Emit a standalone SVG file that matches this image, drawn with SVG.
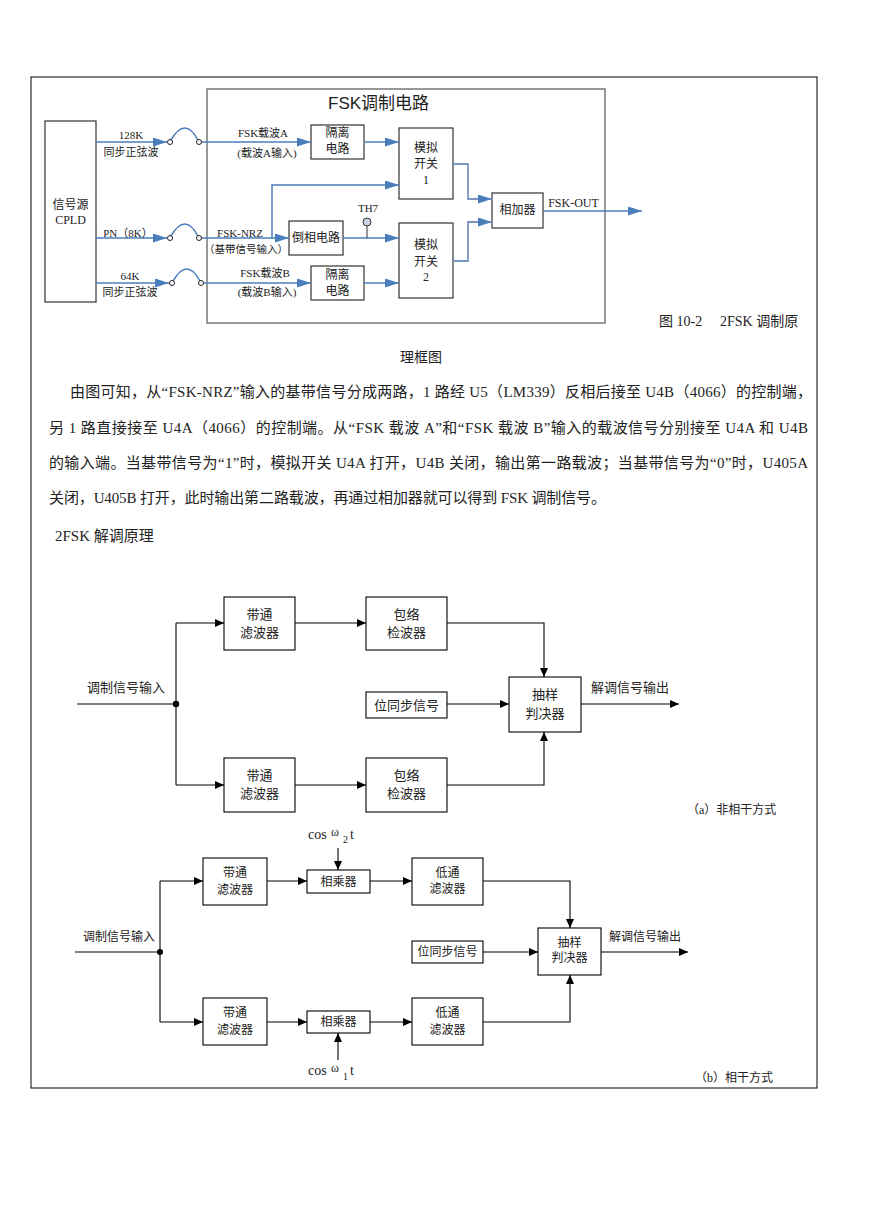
<svg xmlns="http://www.w3.org/2000/svg" width="869" height="1228" viewBox="0 0 869 1228">
<defs>
<style>
.bx{fill:#fff;stroke:#333;stroke-width:1.2}
.kb{fill:#fff;stroke:#000;stroke-width:1.1}
.bl{fill:none;stroke:#4a7ebb;stroke-width:1.5}
.bl2{fill:none;stroke:#7d95c2;stroke-width:1.8}
.k{fill:none;stroke:#000;stroke-width:1.1}
.s{font-family:"Liberation Serif","Noto Sans CJK SC",serif;fill:#222}
.c{text-anchor:middle}
.f11{font-size:11px}
.f12{font-size:12px}
.f13{font-size:13px}
.f15{font-size:15px}
</style>
<marker id="ab" markerUnits="userSpaceOnUse" markerWidth="14" markerHeight="9" refX="14" refY="4.5" orient="auto"><path d="M0,0 L14,4.5 L0,9 z" fill="#4a7ebb"/></marker>
<marker id="ak" markerUnits="userSpaceOnUse" markerWidth="9" markerHeight="8" refX="9" refY="4" orient="auto"><path d="M0,0 L9,4 L0,8 z" fill="#000"/></marker>
</defs>
<rect x="0" y="0" width="869" height="1228" fill="#fff"/>
<rect x="31" y="77" width="786" height="1011" fill="none" stroke="#000" stroke-width="1"/>

<!-- ===== FSK modulation diagram ===== -->
<g id="fsk-box">
<rect x="207" y="89" width="398" height="234" fill="none" stroke="#777" stroke-width="1.5"/>
<text x="328" y="109" font-family="Liberation Sans,Noto Sans CJK SC,sans-serif" font-size="17" fill="#222">FSK调制电路</text>
</g>
<g id="cpld">
<rect class="bx" x="45" y="121" width="51" height="181"/>
<text class="s c f12" x="70.5" y="209">信号源</text>
<text class="s c f12" x="70.5" y="224">CPLD</text>
</g>
<g id="iso-a">
<rect class="bx" x="311" y="125" width="53" height="34"/>
<text class="s c f12" x="337.5" y="137">隔离</text>
<text class="s c f12" x="337.5" y="153">电路</text>
</g>
<g id="iso-b">
<rect class="bx" x="311" y="266" width="53" height="34"/>
<text class="s c f12" x="337.5" y="279">隔离</text>
<text class="s c f12" x="337.5" y="295">电路</text>
</g>
<g id="switch1">
<rect class="bx" x="399" y="128" width="54" height="71"/>
<text class="s c f12" x="426" y="152">模拟</text>
<text class="s c f12" x="426" y="168">开关</text>
<text class="s c f12" x="426" y="184">1</text>
</g>
<g id="switch2">
<rect class="bx" x="399" y="223" width="54" height="75"/>
<text class="s c f12" x="426" y="249">模拟</text>
<text class="s c f12" x="426" y="266">开关</text>
<text class="s c f12" x="426" y="281">2</text>
</g>
<g id="inverter">
<rect class="bx" x="289" y="221" width="54" height="34"/>
<text class="s c f12" x="316" y="242">倒相电路</text>
</g>
<g id="adder">
<rect class="bx" x="492" y="193" width="51" height="35"/>
<text class="s c f12" x="517.5" y="214">相加器</text>
</g>
<g id="th7">
<circle cx="367" cy="222" r="4" fill="#c9d2e2" stroke="#333" stroke-width="1"/>
<text class="s c f11" x="368" y="212">TH7</text>
</g>

<g id="connectors-top">
<line class="bl" x1="96" y1="142" x2="167" y2="142" marker-end="url(#ab)"/>
<path class="bl" d="M171,140 Q185,116 198,140"/>
<line class="bl" x1="201.5" y1="142" x2="311" y2="142" marker-end="url(#ab)"/>
<line class="bl" x1="364" y1="142" x2="399" y2="142" marker-end="url(#ab)"/>

<line class="bl" x1="96" y1="238" x2="167" y2="238" marker-end="url(#ab)"/>
<path class="bl" d="M171,236 Q185,212 198,236"/>
<line class="bl" x1="201.5" y1="238" x2="289" y2="238" marker-end="url(#ab)"/>
<path class="bl" d="M272,238 V185 H399" marker-end="url(#ab)"/>
<line class="bl" x1="343" y1="238" x2="399" y2="238" marker-end="url(#ab)"/>
<line x1="367" y1="238" x2="367" y2="226" stroke="#333" stroke-width="1"/>

<line class="bl" x1="96" y1="283" x2="169" y2="283" marker-end="url(#ab)"/>
<path class="bl" d="M173,281 Q187,257 200,281"/>
<line class="bl" x1="203.5" y1="283" x2="311" y2="283" marker-end="url(#ab)"/>
<line class="bl" x1="364" y1="283" x2="399" y2="283" marker-end="url(#ab)"/>

<path class="bl2" d="M453,164 H468 V199 H492" marker-end="url(#ab)"/>
<path class="bl2" d="M453,261 H468 V222 H492" marker-end="url(#ab)"/>
<line class="bl" x1="543" y1="211" x2="642" y2="211" marker-end="url(#ab)"/>

<g fill="#fff" stroke="#222" stroke-width="1">
<circle cx="170" cy="142" r="2.5"/><circle cx="199" cy="142" r="2.5"/>
<circle cx="170" cy="238" r="2.5"/><circle cx="199" cy="238" r="2.5"/>
<circle cx="172" cy="283" r="2.5"/><circle cx="201" cy="283" r="2.5"/>
</g>
</g>

<g id="labels-top">
<text class="s c f11" x="131" y="139">128K</text>
<text class="s c f11" x="131" y="156">同步正弦波</text>
<text class="s c f11" x="128" y="237">PN（8K）</text>
<text class="s c f11" x="130" y="280">64K</text>
<text class="s c f11" x="130" y="296">同步正弦波</text>
<text class="s c f11" x="263" y="137">FSK载波A</text>
<text class="s c f11" x="267" y="157">(载波A输入)</text>
<text class="s c f11" x="240" y="237">FSK-NRZ</text>
<text class="s c" x="246" y="253" font-size="10.5">（基带信号输入）</text>
<text class="s c f11" x="265" y="277">FSK载波B</text>
<text class="s c f11" x="267" y="296">(载波B输入)</text>
<text class="s c f12" x="573.5" y="207">FSK-OUT</text>
</g>

<!-- ===== captions and paragraph ===== -->
<g id="text-block">
<text class="s" x="659" y="326" font-size="14">图 10-2</text>
<text class="s" x="720" y="326" font-size="14">2FSK 调制原</text>
<text class="s c" x="421" y="362" font-size="14">理框图</text>
<text class="s f15" x="70" y="397" textLength="742" lengthAdjust="spacing">由图可知，从“FSK-NRZ”输入的基带信号分成两路，1 路经 U5（LM339）反相后接至 U4B（4066）的控制端，</text>
<text class="s f15" x="49" y="433" textLength="759" lengthAdjust="spacing">另 1 路直接接至 U4A（4066）的控制端。从“FSK 载波 A”和“FSK 载波 B”输入的载波信号分别接至 U4A 和 U4B</text>
<text class="s f15" x="49" y="468" textLength="759" lengthAdjust="spacing">的输入端。当基带信号为“1”时，模拟开关 U4A 打开，U4B 关闭，输出第一路载波；当基带信号为“0”时，U405A</text>
<text class="s f15" x="49" y="503" textLength="557" lengthAdjust="spacing">关闭，U405B 打开，此时输出第二路载波，再通过相加器就可以得到 FSK 调制信号。</text>
<text class="s f15" x="55" y="541">2FSK 解调原理</text>
</g>

<!-- ===== (a) non-coherent ===== -->
<g id="a-bpf1"><rect class="kb" x="224" y="597" width="71" height="53"/>
<text class="s c f13" x="259.5" y="619">带通</text><text class="s c f13" x="259.5" y="637">滤波器</text></g>
<g id="a-env1"><rect class="kb" x="366" y="597" width="81" height="53"/>
<text class="s c f13" x="406.5" y="619">包络</text><text class="s c f13" x="406.5" y="637">检波器</text></g>
<g id="a-bpf2"><rect class="kb" x="224" y="758" width="71" height="54"/>
<text class="s c f13" x="259.5" y="780">带通</text><text class="s c f13" x="259.5" y="798">滤波器</text></g>
<g id="a-env2"><rect class="kb" x="366" y="758" width="81" height="54"/>
<text class="s c f13" x="406.5" y="780">包络</text><text class="s c f13" x="406.5" y="798">检波器</text></g>
<g id="a-sync"><rect class="kb" x="366" y="692" width="81" height="26"/>
<text class="s c f13" x="406.5" y="710">位同步信号</text></g>
<g id="a-dec"><rect class="kb" x="509" y="677" width="72" height="55"/>
<text class="s c f13" x="545" y="699">抽样</text><text class="s c f13" x="545" y="718">判决器</text></g>
<g id="connectors-a">
<line class="k" x1="77" y1="704" x2="176" y2="704"/>
<circle cx="176" cy="704" r="3.2" fill="#000"/>
<path class="k" d="M176,623 V785"/>
<line class="k" x1="176" y1="623" x2="224" y2="623" marker-end="url(#ak)"/>
<line class="k" x1="176" y1="785" x2="224" y2="785" marker-end="url(#ak)"/>
<line class="k" x1="295" y1="623" x2="366" y2="623" marker-end="url(#ak)"/>
<line class="k" x1="295" y1="785" x2="366" y2="785" marker-end="url(#ak)"/>
<path class="k" d="M447,623 H544 V677" marker-end="url(#ak)"/>
<path class="k" d="M447,785 H544 V732" marker-end="url(#ak)"/>
<line class="k" x1="447" y1="704" x2="509" y2="704" marker-end="url(#ak)"/>
<line class="k" x1="581" y1="704" x2="679" y2="704" marker-end="url(#ak)"/>
</g>
<g id="labels-a">
<text class="s f13" x="87" y="692">调制信号输入</text>
<text class="s f13" x="591" y="692">解调信号输出</text>
<text class="s f12" x="687" y="814">（a）非相干方式</text>
</g>

<!-- ===== (b) coherent ===== -->
<g id="b-bpf1"><rect class="kb" x="203" y="858" width="64" height="47"/>
<text class="s c f12" x="235" y="877">带通</text><text class="s c f12" x="235" y="894">滤波器</text></g>
<g id="b-mul1"><rect class="kb" x="307" y="870" width="63" height="23"/>
<text class="s c f12" x="338.5" y="886">相乘器</text></g>
<g id="b-lpf1"><rect class="kb" x="412" y="858" width="71" height="47"/>
<text class="s c f12" x="447.5" y="877">低通</text><text class="s c f12" x="447.5" y="893">滤波器</text></g>
<g id="b-bpf2"><rect class="kb" x="203" y="998" width="64" height="47"/>
<text class="s c f12" x="235" y="1017">带通</text><text class="s c f12" x="235" y="1034">滤波器</text></g>
<g id="b-mul2"><rect class="kb" x="307" y="1011" width="63" height="22"/>
<text class="s c f12" x="338.5" y="1026">相乘器</text></g>
<g id="b-lpf2"><rect class="kb" x="412" y="998" width="71" height="47"/>
<text class="s c f12" x="447.5" y="1017">低通</text><text class="s c f12" x="447.5" y="1034">滤波器</text></g>
<g id="b-sync"><rect class="kb" x="412" y="941" width="71" height="22"/>
<text class="s c f12" x="447.5" y="956">位同步信号</text></g>
<g id="b-dec"><rect class="kb" x="538" y="928" width="63" height="47"/>
<text class="s c f12" x="569.5" y="947">抽样</text><text class="s c f12" x="569.5" y="962">判决器</text></g>
<g id="b-cos2">
<text class="s" x="308" y="839" font-size="14">cos</text>
<text class="s" x="331" y="836" font-size="12">ω</text>
<text class="s" x="343" y="843" font-size="10">2</text>
<text class="s" x="350" y="839" font-size="14">t</text>
</g>
<g id="b-cos1">
<text class="s" x="308" y="1075" font-size="14">cos</text>
<text class="s" x="331" y="1072" font-size="12">ω</text>
<text class="s" x="343" y="1080" font-size="10">1</text>
<text class="s" x="350" y="1075" font-size="14">t</text>
</g>
<g id="connectors-b">
<line class="k" x1="75" y1="952" x2="160" y2="952"/>
<circle cx="160" cy="952" r="3" fill="#000"/>
<path class="k" d="M160,881 V1022"/>
<line class="k" x1="160" y1="881" x2="203" y2="881" marker-end="url(#ak)"/>
<line class="k" x1="160" y1="1022" x2="203" y2="1022" marker-end="url(#ak)"/>
<line class="k" x1="267" y1="881" x2="307" y2="881" marker-end="url(#ak)"/>
<line class="k" x1="267" y1="1022" x2="307" y2="1022" marker-end="url(#ak)"/>
<line class="k" x1="370" y1="881" x2="412" y2="881" marker-end="url(#ak)"/>
<line class="k" x1="370" y1="1022" x2="412" y2="1022" marker-end="url(#ak)"/>
<line class="k" x1="338" y1="848" x2="338" y2="870" marker-end="url(#ak)"/>
<line class="k" x1="338" y1="1060" x2="338" y2="1033" marker-end="url(#ak)"/>
<path class="k" d="M483,881 H570 V928" marker-end="url(#ak)"/>
<path class="k" d="M483,1022 H570 V975" marker-end="url(#ak)"/>
<line class="k" x1="483" y1="952" x2="538" y2="952" marker-end="url(#ak)"/>
<line class="k" x1="601" y1="952" x2="688" y2="952" marker-end="url(#ak)"/>
</g>
<g id="labels-b">
<text class="s f12" x="83" y="941">调制信号输入</text>
<text class="s f12" x="609" y="941">解调信号输出</text>
<text class="s f12" x="695" y="1082">（b）相干方式</text>
</g>
</svg>
